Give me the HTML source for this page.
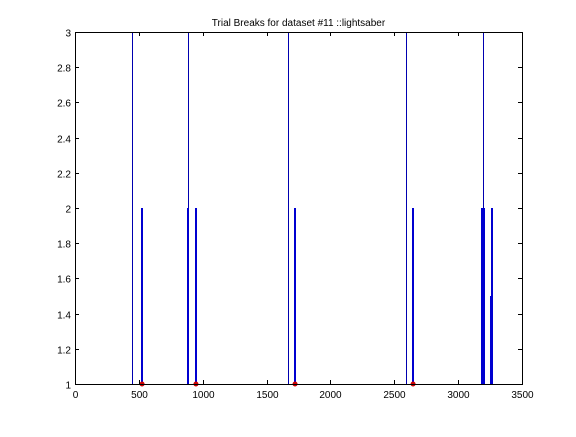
<!DOCTYPE html>
<html><head><meta charset="utf-8"><style>
body{margin:0;background:#fff;}
svg text{font-family:"Liberation Sans",sans-serif;font-size:10px;fill:#000;}
</style></head><body>
<svg width="576" height="432" xmlns="http://www.w3.org/2000/svg">
<rect width="576" height="432" fill="#fff"/>
<g id="plot"></g>
</svg>
<script>
const tallX=[448,887,1664,2592,3195];
const tallY=[3,3,3,3,3];
const shortX=[525,884,947,1723,2647,3190,3200,3262,3258];
const shortY=[2,2,2,2,2,2,2,2,1.5];
const dotX=[525,947,1723,2647];
const dotY=[1,1,1,1];
const xTicks=[0,500,1000,1500,2000,2500,3000,3500];
const yTicks=[1,1.2,1.4,1.6,1.8,2,2.2,2.4,2.6,2.8,3];
const L=75,R=522,T=32,B=384;
const sx=v=>L+v/3500*(R-L);
const sy=v=>B-(v-1)/2*(B-T);
const px=v=>Math.round(v)+0.5;
const NS='http://www.w3.org/2000/svg';
const g=document.getElementById('plot');
function mk(tag,a){const e=document.createElementNS(NS,tag);for(const k in a)e.setAttribute(k,a[k]);g.appendChild(e);return e;}
const bg=mk('rect',{x:L,y:T,width:R-L,height:B-T,fill:'#fff'});


tallX.forEach((x,i)=>{const e=mk('line',{x1:px(sx(x)),x2:px(sx(x)),y1:sy(1),y2:sy(tallY[i]),stroke:'#0000b0','stroke-width':1});

});
shortX.forEach((x,i)=>{const e=mk('line',{x1:Math.round(sx(x)),x2:Math.round(sx(x)),y1:sy(1),y2:sy(shortY[i]),stroke:'#0000d0','stroke-width':2});

});
dotX.forEach((x,i)=>{const e=mk('circle',{cx:sx(x),cy:sy(dotY[i]),r:2.5,fill:'#cc0000'});

});
const fr=mk('rect',{x:L+0.5,y:T+0.5,width:R-L,height:B-T,fill:'none',stroke:'#000','stroke-width':1});


xTicks.forEach(v=>{const x=px(sx(v));
mk('line',{x1:x,x2:x,y1:B,y2:B-4,stroke:'#000'});mk('line',{x1:x,x2:x,y1:T,y2:T+4,stroke:'#000'});
const t=mk('text',{x:x,y:B+14,'text-anchor':'middle'});t.textContent=v;

});
yTicks.forEach(v=>{const y=px(sy(v));
mk('line',{x1:L,x2:L+4,y1:y,y2:y,stroke:'#000'});mk('line',{x1:R,x2:R-4,y1:y,y2:y,stroke:'#000'});
const t=mk('text',{x:L-4,y:y+4,'text-anchor':'end'});t.textContent=String(v);

});
const ti=mk('text',{x:(L+R)/2,y:26,'text-anchor':'middle'});ti.textContent='Trial Breaks for dataset #11 ::lightsaber';


</script>
</body></html>
